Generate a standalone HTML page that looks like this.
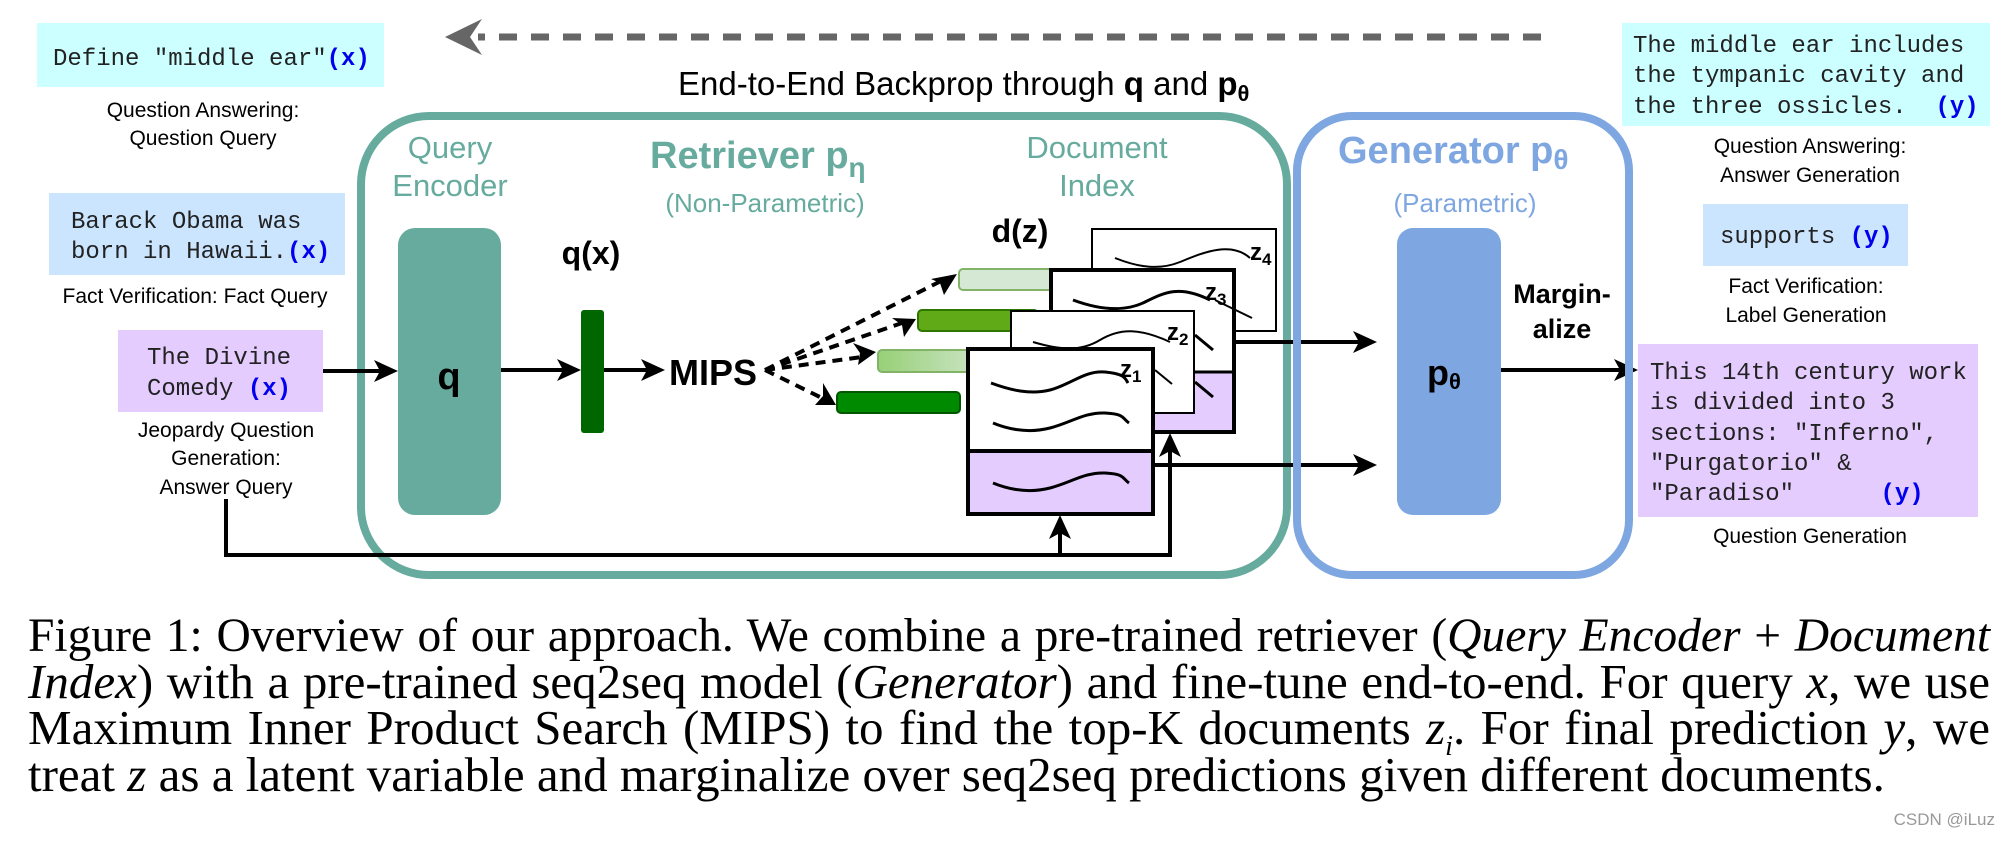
<!DOCTYPE html>
<html><head><meta charset="utf-8"><style>
html,body{margin:0;padding:0;background:#fff;}
body{width:2014px;height:844px;overflow:hidden;position:relative;}
svg{position:absolute;left:0;top:0;}
.cap{position:absolute;left:28px;width:1962px;font-family:"Liberation Serif","Times New Roman",serif;font-size:49px;color:#000;white-space:nowrap;line-height:46px;}
.j{text-align:justify;text-align-last:justify;}
</style></head><body>
<svg width="2014" height="844" viewBox="0 0 2014 844" xmlns="http://www.w3.org/2000/svg">
<defs>
<linearGradient id="g3" x1="0" x2="1"><stop offset="0" stop-color="#97d077"/><stop offset="1" stop-color="#d5e8d4"/></linearGradient>
</defs>
<g font-family="Liberation Sans, Arial, sans-serif">
<line x1="1541" y1="37" x2="478" y2="37" stroke="#666" stroke-width="7" stroke-dasharray="18 14"/>
<polygon points="445,37 482,19 470,37 482,55" fill="#666"/>
<text x="678" y="95" font-size="33" fill="#000">End-to-End Backprop through <tspan font-weight="bold">q</tspan> and <tspan font-weight="bold">p<tspan font-size="22" dy="6">θ</tspan></tspan></text>

<rect x="37" y="23" width="347" height="64" fill="#ccffff"/>
<text x="53" y="65" font-family="Liberation Mono, monospace" font-size="24" fill="#222" xml:space="preserve">Define "middle ear"<tspan fill="#0000ee" font-weight="bold">(x)</tspan></text>
<text x="203" y="117" font-size="21" text-anchor="middle">Question Answering:</text>
<text x="203" y="145" font-size="21" text-anchor="middle">Question Query</text>

<rect x="49" y="193" width="296" height="82" fill="#cce5ff"/>
<text x="71" y="228" font-family="Liberation Mono, monospace" font-size="24" fill="#222" xml:space="preserve">Barack Obama was</text>
<text x="71" y="258" font-family="Liberation Mono, monospace" font-size="24" fill="#222" xml:space="preserve">born in Hawaii.<tspan fill="#0000ee" font-weight="bold">(x)</tspan></text>
<text x="195" y="303" font-size="21" text-anchor="middle">Fact Verification: Fact Query</text>

<rect x="118" y="330" width="205" height="82" fill="#e5ccff"/>
<text x="147" y="364" font-family="Liberation Mono, monospace" font-size="24" fill="#222" xml:space="preserve">The Divine</text>
<text x="147" y="395" font-family="Liberation Mono, monospace" font-size="24" fill="#222" xml:space="preserve">Comedy <tspan fill="#0000ee" font-weight="bold">(x)</tspan></text>
<text x="226" y="437" font-size="21" text-anchor="middle">Jeopardy Question</text>
<text x="226" y="465" font-size="21" text-anchor="middle">Generation:</text>
<text x="226" y="494" font-size="21" text-anchor="middle">Answer Query</text>

<rect x="361" y="116" width="926" height="459" rx="68" fill="none" stroke="#67ab9f" stroke-width="8"/>
<text x="450" y="158" font-size="31" fill="#67ab9f" text-anchor="middle">Query</text>
<text x="450" y="196" font-size="31" fill="#67ab9f" text-anchor="middle">Encoder</text>
<text x="650" y="168" font-size="38" font-weight="bold" fill="#67ab9f">Retriever p<tspan font-size="28" dy="9">η</tspan></text>
<text x="765" y="212" font-size="26" fill="#67ab9f" text-anchor="middle">(Non-Parametric)</text>
<text x="1097" y="158" font-size="31" fill="#67ab9f" text-anchor="middle">Document</text>
<text x="1097" y="196" font-size="31" fill="#67ab9f" text-anchor="middle">Index</text>

<rect x="398" y="228" width="103" height="287" rx="17" fill="#67ab9f"/>
<text x="449" y="389" font-size="38" font-weight="bold" text-anchor="middle">q</text>
<text x="591" y="264" font-size="32" font-weight="bold" text-anchor="middle">q(x)</text>
<rect x="581" y="310" width="23" height="123" rx="3" fill="#006600"/>
<text x="669" y="385" font-size="36" font-weight="bold">MIPS</text>
<text x="1020" y="242" font-size="32" font-weight="bold" text-anchor="middle">d(z)</text>

<g stroke="#000" stroke-width="4" fill="none">
<line x1="323" y1="371" x2="385" y2="371"/>
<line x1="501" y1="370" x2="568" y2="370"/>
<line x1="604" y1="370" x2="650" y2="370"/>
</g>
<polygon points="398,371 374,360 380,371 374,382" fill="#000"/>
<polygon points="581,370 557,359 563,370 557,381" fill="#000"/>
<polygon points="665,370 641,359 647,370 641,381" fill="#000"/>

<rect x="959" y="269" width="120" height="21" rx="4" fill="#d5e8d4" stroke="#82b366" stroke-width="2"/>
<rect x="918" y="310" width="120" height="21" rx="4" fill="#60a917" stroke="#2d7600" stroke-width="2"/>
<rect x="878" y="350" width="120" height="22" rx="4" fill="url(#g3)" stroke="#82b366" stroke-width="2"/>
<rect x="837" y="392" width="123" height="21" rx="4" fill="#008a00" stroke="#005700" stroke-width="2"/>

<g stroke="#000" stroke-width="4" fill="none" stroke-dasharray="10 7">
<line x1="765" y1="370" x2="943" y2="280"/>
<line x1="765" y1="370" x2="902" y2="323"/>
<line x1="765" y1="370" x2="862" y2="357"/>
<line x1="765" y1="370" x2="822" y2="398"/>
</g>
<polygon points="957,274 944,295 940,283 931,279" fill="#000"/>
<polygon points="916,319 904,337 902,325 892,318" fill="#000"/>
<polygon points="876,352 858,365 860,353 853,343" fill="#000"/>
<polygon points="836,405 815,405 823,396 823,383" fill="#000"/>

<g fill="none" stroke="#000">
<rect x="1092" y="229" width="184" height="102" fill="#fff" stroke-width="2"/>
<path d="M1115,258 C1140,268 1160,270 1180,262 S1230,240 1250,258" stroke-width="2"/>
<rect x="1051" y="270" width="183" height="162" fill="#fff" stroke-width="4"/>
<rect x="1053" y="372" width="179" height="58" fill="#e5ccff" stroke="none"/>
<line x1="1051" y1="372" x2="1234" y2="372" stroke-width="3"/>
<path d="M1073,300 C1100,310 1125,312 1145,302 S1180,285 1210,300" stroke-width="3"/>
<path d="M1215,300 L1252,318" stroke-width="2"/>
<rect x="1011" y="311" width="183" height="102" fill="#fff" stroke-width="2"/>
<path d="M1033,342 C1060,350 1080,352 1100,340 S1140,328 1170,342" stroke-width="2"/>
<path d="M1195,335 L1213,350" stroke-width="3"/>
<path d="M1195,382 L1213,397" stroke-width="3"/>
<rect x="968" y="349" width="185" height="165" fill="#fff" stroke-width="4"/>
<rect x="970" y="453" width="181" height="59" fill="#e5ccff" stroke="none"/>
<line x1="968" y1="451" x2="1153" y2="451" stroke-width="4"/>
<path d="M991,383 C1010,390 1030,395 1050,390 S1085,370 1105,372 S1125,378 1128,383" stroke-width="3"/>
<path d="M993,423 C1010,430 1030,433 1050,428 S1085,412 1105,413 S1122,418 1129,423" stroke-width="3"/>
<path d="M993,483 C1010,490 1030,493 1050,488 S1085,472 1105,473 S1122,478 1129,483" stroke-width="3"/>
<path d="M1155,370 L1172,384" stroke-width="2"/>
</g>
<text x="1250" y="260" font-size="24" font-weight="bold">z<tspan font-size="17" dy="5">4</tspan></text>
<text x="1205" y="300" font-size="24" font-weight="bold">z<tspan font-size="17" dy="5">3</tspan></text>
<text x="1167" y="340" font-size="24" font-weight="bold">z<tspan font-size="17" dy="5">2</tspan></text>
<text x="1120" y="377" font-size="24" font-weight="bold">z<tspan font-size="17" dy="5">1</tspan></text>

<g stroke="#000" stroke-width="4" fill="none">
<line x1="1234" y1="342" x2="1362" y2="342"/>
<line x1="1153" y1="465" x2="1362" y2="465"/>
<polyline points="226,499 226,555 1170,555 1170,448"/>
<line x1="1060" y1="555" x2="1060" y2="530"/>
<line x1="1497" y1="370" x2="1622" y2="370"/>
</g>
<polygon points="1377,342 1353,331 1359,342 1353,353" fill="#000"/>
<polygon points="1377,465 1353,454 1359,465 1353,476" fill="#000"/>
<polygon points="1170,433 1159,457 1170,451 1181,457" fill="#000"/>
<polygon points="1060,515 1049,539 1060,533 1071,539" fill="#000"/>
<polygon points="1638,370 1614,359 1620,370 1614,381" fill="#000"/>

<rect x="1297" y="116" width="332" height="459" rx="55" fill="none" stroke="#7ea6e0" stroke-width="8"/>
<text x="1338" y="163" font-size="38" font-weight="bold" fill="#7ea6e0">Generator p<tspan font-size="28" dy="6">θ</tspan></text>
<text x="1465" y="212" font-size="26" fill="#7ea6e0" text-anchor="middle">(Parametric)</text>
<rect x="1397" y="228" width="104" height="287" rx="16" fill="#7ea6e0"/>
<text x="1427" y="385" font-size="36" font-weight="bold">p<tspan font-size="22" dy="4">θ</tspan></text>
<text x="1562" y="303" font-size="27" font-weight="bold" text-anchor="middle">Margin-</text>
<text x="1562" y="338" font-size="27" font-weight="bold" text-anchor="middle">alize</text>

<rect x="1622" y="23" width="368" height="103" fill="#ccffff"/>
<g font-family="Liberation Mono, monospace" font-size="24" fill="#222">
<text x="1633" y="52" xml:space="preserve">The middle ear includes</text>
<text x="1633" y="82" xml:space="preserve">the tympanic cavity and</text>
<text x="1633" y="113" xml:space="preserve">the three ossicles.  <tspan fill="#0000ee" font-weight="bold">(y)</tspan></text>
</g>
<text x="1810" y="153" font-size="21" text-anchor="middle">Question Answering:</text>
<text x="1810" y="182" font-size="21" text-anchor="middle">Answer Generation</text>
<rect x="1703" y="204" width="205" height="62" fill="#cce5ff"/>
<text x="1720" y="243" font-family="Liberation Mono, monospace" font-size="24" fill="#222" xml:space="preserve">supports <tspan fill="#0000ee" font-weight="bold">(y)</tspan></text>
<text x="1806" y="293" font-size="21" text-anchor="middle">Fact Verification:</text>
<text x="1806" y="322" font-size="21" text-anchor="middle">Label Generation</text>
<rect x="1638" y="344" width="340" height="173" fill="#e5ccff"/>
<g font-family="Liberation Mono, monospace" font-size="24" fill="#222">
<text x="1650" y="379" xml:space="preserve">This 14th century work</text>
<text x="1650" y="409" xml:space="preserve">is divided into 3</text>
<text x="1650" y="440" xml:space="preserve">sections: "Inferno",</text>
<text x="1650" y="470" xml:space="preserve">"Purgatorio" &amp;</text>
<text x="1650" y="500" xml:space="preserve">"Paradiso"      <tspan fill="#0000ee" font-weight="bold">(y)</tspan></text>
</g>
<text x="1810" y="543" font-size="21" text-anchor="middle">Question Generation</text>
<text x="1995" y="825" font-size="17" fill="#999" text-anchor="end">CSDN @iLuz</text>
</g>
</svg>
<div class="cap j" style="top:613px;font-size:47.5px;">Figure 1: Overview of our approach. We combine a pre-trained retriever (<i>Query Encoder</i> + <i>Document</i></div>
<div class="cap j" style="top:659px;"><i>Index</i>) with a pre-trained seq2seq model (<i>Generator</i>) and fine-tune end-to-end. For query <i>x</i>, we use</div>
<div class="cap j" style="top:705px;">Maximum Inner Product Search (MIPS) to find the top-K documents <i>z<sub style="font-size:28px">i</sub></i>. For final prediction <i>y</i>, we</div>
<div class="cap" style="top:752px;">treat <i>z</i> as a latent variable and marginalize over seq2seq predictions given different documents.</div>
</body></html>
